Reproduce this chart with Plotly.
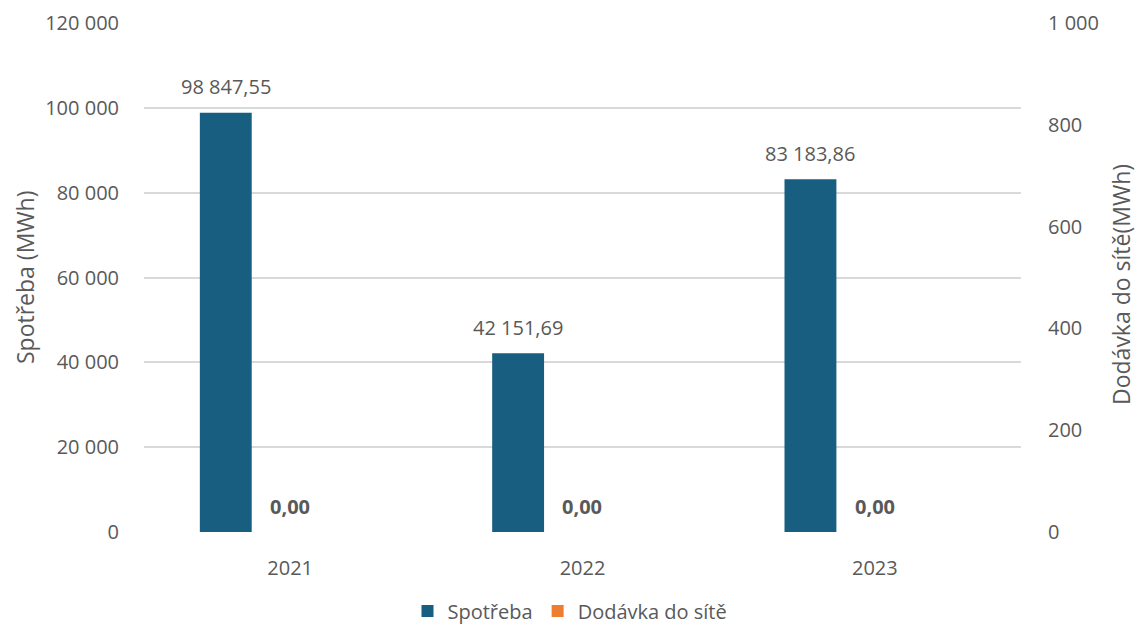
import plotly.graph_objects as go

years = ["2021", "2022", "2023"]
spotreba = [98847.55, 42151.69, 83183.86]
dodavka = [0.00, 0.00, 0.00]
left_ticks = [0, 20000, 40000, 60000, 80000, 100000, 120000]
right_ticks = [0, 200, 400, 600, 800, 1000]

BLUE = "#175E80"
ORANGE = "#ED7D31"
GRAY = "#595959"
FONT = "Open Sans"

W_BAR = 0.1775
OFF_BLUE = -0.309
OFF_OR = -0.089

fig = go.Figure()
fig.add_trace(go.Bar(x=years, y=spotreba, name="Spotřeba", marker_color=BLUE,
                     marker_line_width=0,
                     width=W_BAR, offset=OFF_BLUE, yaxis="y", hoverinfo="y"))
fig.add_trace(go.Bar(x=years, y=dodavka, name="Dodávka do sítě", marker_color=ORANGE,
                     marker_line_width=0,
                     width=W_BAR, offset=OFF_OR, yaxis="y2", hoverinfo="y"))

def fmt(v):
    s = f"{v:,.2f}"
    return s.replace(",", " ").replace(".", ",")

L, R, T, B = 144, 117, 23, 94
PW, PH = 1138 - L - R, 626 - T - B

ann = []
for i, v in enumerate(spotreba):
    ann.append(dict(x=i + OFF_BLUE + W_BAR / 2, y=v, xref="x", yref="y", text=fmt(v),
                    showarrow=False, xanchor="center", yanchor="middle", yshift=26,
                    font=dict(family=FONT, size=20, color=GRAY)))
for i, v in enumerate(dodavka):
    ann.append(dict(x=i + OFF_OR + W_BAR / 2, y=v, xref="x", yref="y2", text="<b>" + fmt(v) + "</b>",
                    showarrow=False, xanchor="center", yanchor="middle", yshift=26,
                    font=dict(family=FONT, size=20, color=GRAY)))
ann.append(dict(x=(25 - L) / PW, y=(626 - B - 278) / PH, xref="paper", yref="paper",
                text="Spotřeba (MWh)", textangle=-90, xanchor="center", yanchor="middle",
                showarrow=False, font=dict(family=FONT, size=23, color=GRAY)))
ann.append(dict(x=(1121 - L) / PW, y=(626 - B - 285) / PH, xref="paper", yref="paper",
                text="Dodávka do sítě(MWh)", textangle=-90, xanchor="center", yanchor="middle",
                showarrow=False, font=dict(family=FONT, size=23, color=GRAY)))

fig.update_layout(
    width=1138, height=626,
    margin=dict(l=L, r=R, t=T, b=B, autoexpand=False),
    paper_bgcolor="white", plot_bgcolor="white",
    separators=", ",
    font=dict(family=FONT, size=20, color=GRAY),
    barmode="overlay",
    showlegend=True,
    legend=dict(orientation="h", xref="paper", x=(570 - L) / PW, xanchor="center",
                yref="container", y=1 - 611 / 626, yanchor="middle",
                font=dict(family=FONT, size=20, color=GRAY), itemwidth=30,
                traceorder="normal"),
    xaxis=dict(type="category", range=[-0.5, 2.5], showgrid=False, showline=False,
               ticks="outside", ticklen=18, tickcolor="rgba(0,0,0,0)", automargin=False,
               tickfont=dict(family=FONT, size=20, color=GRAY), zeroline=False),
    yaxis=dict(range=[0, 120000], tickvals=left_ticks, tickformat=",d", automargin=False,
               showgrid=True, gridcolor="#D9D9D9", gridwidth=1.5, zeroline=False,
               showline=False, ticks="outside", ticklen=20, tickcolor="rgba(0,0,0,0)",
               tickfont=dict(family=FONT, size=20, color=GRAY)),
    yaxis2=dict(range=[0, 1000], tickvals=right_ticks, tickformat=",d", overlaying="y",
                side="right", showgrid=False, zeroline=False, showline=False, automargin=False,
                ticks="outside", ticklen=22, tickcolor="rgba(0,0,0,0)",
                tickfont=dict(family=FONT, size=20, color=GRAY)),
    annotations=ann,
)

fig.write_html("out.html")
